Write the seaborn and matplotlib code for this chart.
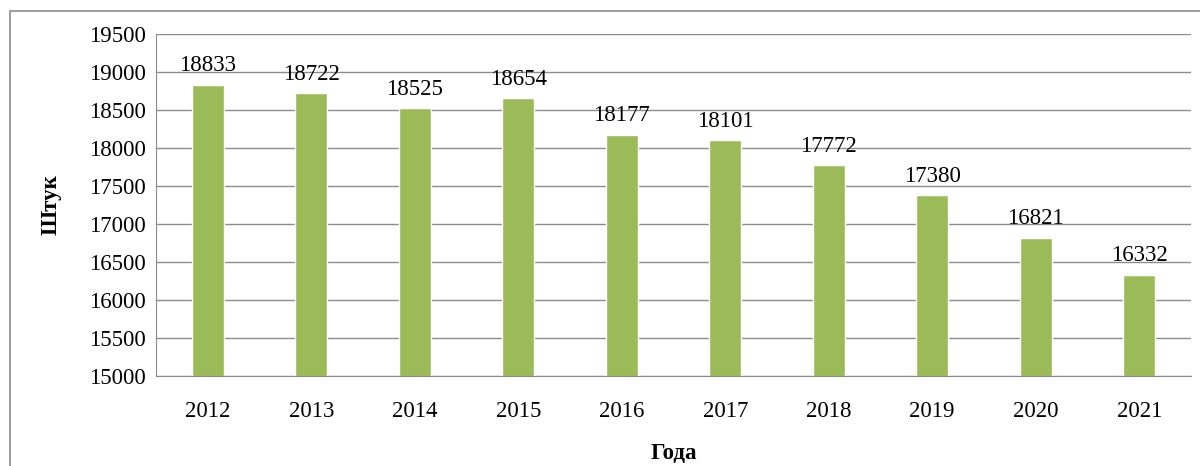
import seaborn as sns
import pandas as pd
import matplotlib.pyplot as plt
from matplotlib.patches import Rectangle

years = ['2012', '2013', '2014', '2015', '2016', '2017', '2018', '2019', '2020', '2021']
counts = [18833, 18722, 18525, 18654, 18177, 18101, 17772, 17380, 16821, 16332]

df = pd.DataFrame({'year': years, 'count': counts})

sns.set_style('white')
plt.rcParams['font.family'] = ['Liberation Serif', 'DejaVu Serif']
plt.rcParams['text.color'] = 'black'
plt.rcParams['xtick.color'] = 'black'
plt.rcParams['ytick.color'] = 'black'
plt.rcParams['axes.labelcolor'] = 'black'

fig = plt.figure(figsize=(12, 4.66), dpi=100)
ax = fig.add_axes([0.13, 0.193, 0.8625, 0.734])

sns.barplot(data=df, x='year', y='count', color='#9BBB59', width=0.31,
            saturation=1, ax=ax)

ax.set_ylim(15000, 19500)
ax.set_yticks(range(15000, 19501, 500))
ax.yaxis.grid(True, color='#8c8c8c', linewidth=1)
ax.set_axisbelow(True)
for s in ['top', 'right']:
    ax.spines[s].set_visible(False)
ax.spines['left'].set_color('#8c8c8c')
ax.spines['bottom'].set_color('#8c8c8c')
ax.tick_params(axis='y', labelsize=16.5, pad=7, length=0)
ax.tick_params(axis='x', labelsize=16.5, pad=18, length=0)

# value labels
for i, v in enumerate(counts):
    ax.text(i, v + 110, str(v), ha='center', va='bottom', fontsize=16.5)

ax.set_xlabel('Года', fontsize=16.5, fontweight='bold', labelpad=15)
ax.set_ylabel('Штук', fontsize=16.5, fontweight='bold', labelpad=20)

# outer chart border
fig.add_artist(Rectangle((10 / 1200, -0.1), 1.2, 1 - 11 / 466 + 0.1,
                         transform=fig.transFigure, fill=False,
                         edgecolor='#8c8c8c', linewidth=1.2, clip_on=False))

fig.savefig('out.png', dpi=100)
